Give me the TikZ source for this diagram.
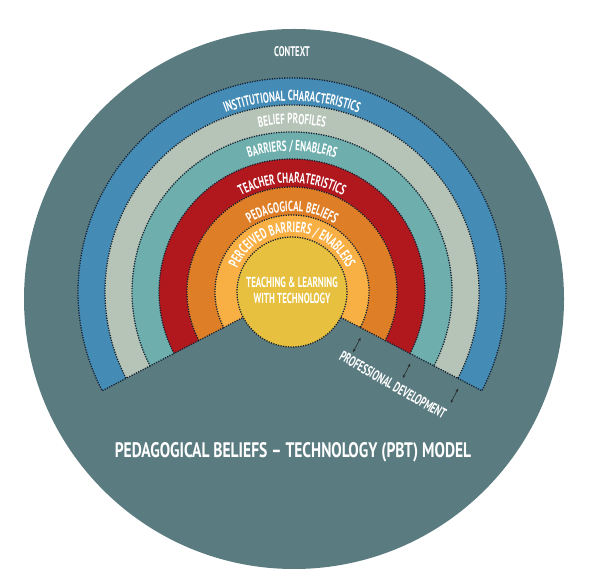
\documentclass[tikz,border=0pt]{standalone}
\usepackage{fontspec}
\setmainfont{PT Sans}
\newfontfamily\lab{PT Sans Bold}[FakeStretch=0.62]
\newfontfamily\ttl{PT Sans Bold}[FakeStretch=0.74]
\usetikzlibrary{decorations.text,arrows.meta,calc}
\definecolor{ctx}{HTML}{5A7B80}
\definecolor{cblue}{HTML}{448BB6}
\definecolor{csage}{HTML}{B5C4B7}
\definecolor{cteal}{HTML}{6EAEAD}
\definecolor{cred}{HTML}{B0181E}
\definecolor{corange}{HTML}{DE7E26}
\definecolor{clight}{HTML}{F8AF43}
\definecolor{cyel}{HTML}{E6C03E}
\definecolor{dotc}{HTML}{16202F}
\begin{document}
\begin{tikzpicture}[x=1pt,y=1pt,
  dots/.style={draw=dotc, line width=1.3pt, dash pattern=on 1.2pt off 1.3pt},
  ringlabel/.style={decorate, decoration={text along path, text align=center, text={#1}}},
  pdarrow/.style={{Stealth[length=3.2pt,width=2.6pt]}-{Stealth[length=3.2pt,width=2.6pt]}, line width=0.55pt, draw=black!85},
  lbl/.style={text=white, inner sep=0pt}]
\useasboundingbox (0,0) rectangle (601,575);
\coordinate (O) at (292,283);
\fill[ctx] (294,276) circle[radius=270];
% ring sectors
\foreach \r/\ri/\c in {214/187/cblue, 187/160/csage, 160/133/cteal, 133/105/cred, 105/77/corange, 77/55/clight}{
  \fill[\c] ($(O)+(-27.5:\r)$) arc[start angle=-27.5,end angle=207.5,radius=\r]
     -- ($(O)+(207.5:\ri)$) arc[start angle=207.5,end angle=-27.5,radius=\ri] -- cycle;
}
\foreach \r/\ri in {214/187, 187/160, 160/133, 133/105, 105/77, 77/55}{
  \draw[dots] ($(O)+(-27.5:\ri)$) -- ($(O)+(-27.5:\r)$) arc[start angle=-27.5,end angle=207.5,radius=\r]
     -- ($(O)+(207.5:\ri)$);
}
% centre circle
\fill[cyel] (O) circle[radius=55];
\draw[dots] (O) circle[radius=55];
% ring labels
\path[ringlabel={|\lab\fontsize{14.5}{14.5}\selectfont\color{white}|INSTITUTIONAL CHARACTERISTICS}]
  ($(O)+(170:191)$) arc[start angle=170,end angle=10,radius=191];
\path[ringlabel={|\lab\fontsize{14.5}{14.5}\selectfont\color{white}|BELIEF PROFILES}]
  ($(O)+(170:168)$) arc[start angle=170,end angle=10,radius=168];
\path[ringlabel={|\lab\fontsize{14.5}{14.5}\selectfont\color{white}|BARRIERS / ENABLERS}]
  ($(O)+(170:141)$) arc[start angle=170,end angle=10,radius=141];
\path[ringlabel={|\lab\fontsize{14.5}{14.5}\selectfont\color{white}|TEACHER CHARATERISTICS}]
  ($(O)+(175:109)$) arc[start angle=175,end angle=5,radius=109];
\path[ringlabel={|\lab\fontsize{14.5}{14.5}\selectfont\color{white}|PEDAGOGICAL BELIEFS}]
  ($(O)+(178:80.5)$) arc[start angle=178,end angle=2,radius=80.5];
\path[ringlabel={|\lab\fontsize{15}{15}\selectfont\color{white}|PERCEIVED BARRIERS / ENABLERS}]
  ($(O)+(190:59.5)$) arc[start angle=190,end angle=-10,radius=59.5];
% straight labels
\node[lbl, font=\lab\fontsize{14}{14}\selectfont] (context) at (292,523) {CONTEXT};
\node[lbl, align=center, font=\lab\fontsize{14.5}{16}\selectfont] (tlt) at (292,285) {TEACHING \& LEARNING\\WITH TECHNOLOGY};
\node[lbl, font=\ttl\fontsize{21}{22}\selectfont] (title) at (293,123) {PEDAGOGICAL BELIEFS – TECHNOLOGY (PBT) MODEL};
\node[lbl, rotate=-30, font=\lab\fontsize{14.5}{14.5}\selectfont] (pd) at (393,190) {PROFESSIONAL DEVELOPMENT};
% professional development arrows
\foreach \i/\r in {1/82, 2/138, 3/192}{
  \coordinate (a\i s) at ($(O)+(-27.5:\r)+(242.5:9)$);
  \coordinate (a\i e) at ($(O)+(-27.5:\r)+(242.5:25)$);
  \draw[pdarrow] (a\i s) -- (a\i e);
}
\end{tikzpicture}
\end{document}
